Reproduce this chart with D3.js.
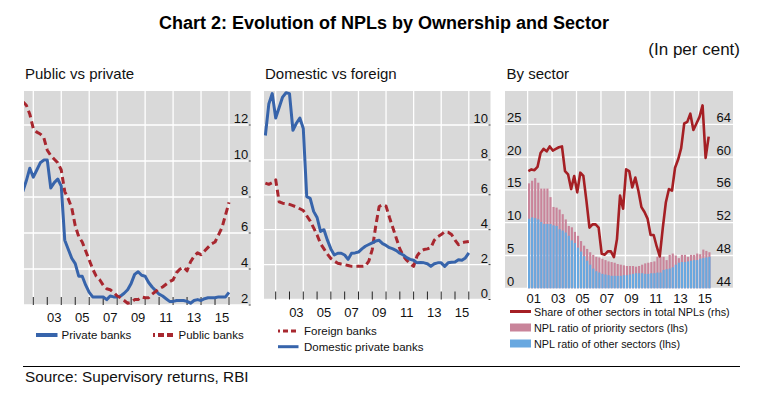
<!DOCTYPE html>
<html><head><meta charset="utf-8">
<script src="https://cdn.jsdelivr.net/npm/d3@7"></script>
<style>body{margin:0;background:#fff}svg{display:block;font-family:"Liberation Sans",Arial,sans-serif}</style>
</head><body><svg id="c" width="764" height="398"></svg>
<script>
// ---- data (quarterly, 2001Q1 .. 2015Q4) ----
const years = [2001,2002,2003,2004,2005,2006,2007,2008,2009,2010,2011,2012,2013,2014,2015];
const quarterIdx = [1,2,3,4];
const privateBanks = [8.3,8.9,9.6,9.1, 9.5,9.9,10.05,10.05, 8.5,8.8,9.0,8.6, 5.6,5.1,4.6,4.3, 3.6,3.6,3.1,2.7, 2.45,2.45,2.45,2.45, 2.3,2.5,2.45,2.45, 2.5,2.65,2.85,3.2, 3.7,3.85,3.65,3.6, 3.25,3.0,2.8,2.6, 2.5,2.35,2.2,2.2, 2.25,2.25,2.25,2.2, 2.1,2.25,2.3,2.25, 2.35,2.4,2.4,2.4, 2.45,2.45,2.45,2.7];
const publicBanks = [13.3,13.1,12.6,11.8, 11.6,11.5,11.3,10.6, 10.3,10.1,9.9,9.5, 8.3,7.9,7.4,6.4, 5.8,5.5,5.0,4.5, 4.0,3.6,3.4,3.1, 2.9,2.85,2.7,2.5, 2.4,2.25,2.1,2.15, 2.3,2.3,2.45,2.4, 2.4,2.6,2.75,2.9, 3.0,3.15,3.3,3.4, 3.8,4.0,4.1,3.9, 4.4,4.7,4.9,4.8, 5.0,5.2,5.4,5.5, 5.9,6.3,7.0,7.7];
const foreignBanks = [6.67,6.6,6.7,6.86, 5.6,5.52,5.5,5.45, 5.38,5.3,5.2,5.1, 4.8,4.5,4.1,3.7, 3.2,2.9,2.6,2.35, 2.2,2.08,2.03,2.0, 1.95,1.9,1.9,1.9, 1.9,1.92,2.2,2.86, 4.2,5.33,5.43,5.35, 4.7,4.1,3.5,2.9, 2.5,2.25,2.05,1.9, 2.5,2.76,2.86,2.9, 2.98,3.4,3.6,3.72, 3.88,3.85,3.72,3.4, 3.14,3.25,3.3,3.33];
const domesticPrivate = [9.4,11.2,11.8,10.4, 11.0,11.6,11.85,11.8, 9.7,10.1,10.4,9.8, 5.9,5.8,5.05,4.7, 3.9,4.0,3.4,2.9, 2.55,2.65,2.65,2.55, 2.3,2.65,2.67,2.72, 2.9,3.05,3.15,3.25, 3.35,3.39,3.2,3.1, 2.97,2.9,2.8,2.65, 2.55,2.4,2.3,2.25, 2.1,2.12,2.1,2.05, 1.9,2.05,2.1,2.1, 1.9,2.1,2.13,2.15, 2.28,2.25,2.38,2.67];
const priorityNPL = [16.0,16.4,16.8,16.1, 15.2,15.2,15.2,13.9, 12.4,12.3,12.0,11.3, 10.5,9.5,9.3,8.6, 8.0,7.2,6.5,6.0, 5.5,5.1,4.8,4.7, 4.5,4.3,4.1,4.0, 3.9,3.7,3.6,3.5, 3.4,3.4,3.4,3.3, 3.4,3.6,3.8,3.9, 4.0,4.1,4.8,4.8, 4.8,4.3,5.1,5.3, 5.0,4.6,5.1,5.1, 4.8,5.1,5.1,5.3, 5.2,5.9,5.7,5.5];
const otherNPL = [10.6,10.8,10.7,10.5, 10.1,9.8,9.8,9.8, 9.6,9.5,9.0,8.8, 8.5,8.0,7.3,6.9, 6.2,5.6,4.9,4.2, 3.6,3.0,2.6,2.4, 2.2,2.1,2.0,1.9, 1.9,1.9,1.9,2.0, 2.0,2.1,2.2,2.3, 2.3,2.3,2.2,2.2, 2.3,2.3,2.4,2.4, 2.8,2.9,3.0,3.2, 3.6,3.9,4.0,4.0, 4.1,4.2,4.3,4.3, 4.5,4.6,4.7,4.8];
const otherShare = [58.3,58.5,58.4,58.8, 60.5,61.0,60.7,61.3, 60.8,61.0,61.2,61.3, 58.3,57.9,56.1,57.7, 55.7,58.1,57.7,54.7, 51.4,51.8,51.8,51.4, 48.2,48.1,48.5,48.5, 47.8,50.0,55.3,53.7, 58.5,58.3,56.3,57.5, 55.9,53.9,53.3,52.5, 50.5,50.5,49.1,47.9, 51.4,54.5,56.1,55.9, 58.7,59.7,61.1,64.1, 64.3,65.3,63.3,64.1, 64.9,66.3,59.9,62.5];
const xLabelsOdd = ["03","05","07","09","11","13","15"];
const xLabels3 = ["01","03","05","07","09","11","13","15"];
const yTicks1 = [2,4,6,8,10,12];
const yTicks2 = [0,2,4,6,8,10];
const yTicksL3 = [0,5,10,15,20,25];
const yTicksR3 = [44,48,52,56,60,64];

// quarter-end times (2001.25 ... 2016.0)
const qTime = years.flatMap(y => quarterIdx.map(q => y + q/4));

const C = {gray:"#d9d9d9", blue:"#3764ab", red:"#a8272f", red3:"#a51f24", pink:"#c9849a", lblue:"#68a8e0", txt:"#111"};
const svg = d3.select("#c");

svg.append("text").attr("x",384).attr("y",29).attr("text-anchor","middle")
  .attr("font-size",18).attr("font-weight","bold").attr("fill","#000")
  .text("Chart 2: Evolution of NPLs by Ownership and Sector");
svg.append("text").attr("x",740).attr("y",55).attr("text-anchor","end")
  .attr("font-size",17).attr("fill",C.txt).text("(In per cent)");

function lineGen(x, y, vals){
  return d3.line().x((d,i)=>x(qTime[i])).y(d=>y(d))(vals);
}

function timePanel(o){
  const g = svg.append("g");
  g.append("text").attr("x",o.left+1).attr("y",79).attr("font-size",15).attr("fill",C.txt).text(o.title);
  g.append("rect").attr("x",o.left).attr("y",91).attr("width",o.right-o.left).attr("height",o.bottom-91).attr("fill",C.gray);
  const x = d3.scaleLinear().domain([2002,2016]).range(o.xr);
  const y = d3.scaleLinear().domain(o.yd).range([o.bottom, o.ytop]);
  o.yTicks.forEach(v=>{
    g.append("line").attr("x1",o.left).attr("x2",o.right).attr("y1",y(v)).attr("y2",y(v)).attr("stroke","#fff").attr("stroke-width",1.3);
    g.append("line").attr("x1",o.right-2).attr("x2",o.right).attr("y1",y(v)).attr("y2",y(v)).attr("stroke","#333");
    g.append("text").attr("x",o.right-2.5).attr("y",y(v)-2).attr("text-anchor","end").attr("font-size",13).attr("fill",C.txt).text(v);
  });
  d3.range(2002,2017,2).forEach(t=>{
    g.append("line").attr("x1",x(t)).attr("x2",x(t)).attr("y1",91).attr("y2",o.bottom).attr("stroke","#fff").attr("stroke-width",1.3);
  });
  d3.range(2002,2017).forEach(t=>{
    g.append("line").attr("x1",x(t)).attr("x2",x(t)).attr("y1",o.bottom-8).attr("y2",o.bottom).attr("stroke","#222").attr("stroke-width",1);
  });
  xLabelsOdd.forEach(l=>{
    const t = 2000 + (+l) + 0.5;
    g.append("text").attr("x",x(t)).attr("y",o.labY).attr("text-anchor","middle").attr("font-size",13).attr("fill",C.txt).text(l);
  });
  const cid = "clip"+o.id;
  svg.append("clipPath").attr("id",cid).append("rect").attr("x",o.left).attr("y",91).attr("width",o.right-o.left).attr("height",o.bottom-91);
  const lg = g.append("g").attr("clip-path",`url(#${cid})`);
  o.series.forEach(s=>{
    lg.append("path").attr("d",lineGen(x,y,s.vals)).attr("fill","none").attr("stroke",s.color)
      .attr("stroke-width",3).attr("stroke-dasharray",s.dash||null).attr("stroke-linejoin","round");
  });
  return g;
}

timePanel({id:1, title:"Public vs private", left:24, right:250.7, bottom:305, ytop:125, yd:[2,12], yTicks:yTicks1,
  xr:[33.3,229.0], labY:321.5,
  series:[{vals:privateBanks,color:C.blue},{vals:publicBanks,color:C.red,dash:"7,4"}]});
timePanel({id:2, title:"Domestic vs foreign", left:264, right:490.5, bottom:299.5, ytop:125, yd:[0,10], yTicks:yTicks2,
  xr:[275.7,468.8], labY:316.5,
  series:[{vals:foreignBanks,color:C.red,dash:"7,4"},{vals:domesticPrivate,color:C.blue}]});

// legends panel 1
svg.append("line").attr("x1",36).attr("x2",57.5).attr("y1",335).attr("y2",335).attr("stroke",C.blue).attr("stroke-width",4);
svg.append("text").attr("x",61.5).attr("y",339).attr("font-size",11.5).attr("fill",C.txt).text("Private banks");
svg.append("line").attr("x1",153).attr("x2",175.5).attr("y1",335).attr("y2",335).attr("stroke",C.red).attr("stroke-width",4).attr("stroke-dasharray","6,3").attr("stroke-dashoffset",4);
svg.append("text").attr("x",178.5).attr("y",339).attr("font-size",11.5).attr("fill",C.txt).text("Public banks");
// legends panel 2
svg.append("line").attr("x1",278).attr("x2",298.5).attr("y1",331).attr("y2",331).attr("stroke",C.red).attr("stroke-width",3).attr("stroke-dasharray","5,3").attr("stroke-dashoffset",3);
svg.append("text").attr("x",304).attr("y",335).attr("font-size",11.5).attr("fill",C.txt).text("Foreign banks");
svg.append("line").attr("x1",278).attr("x2",298.5).attr("y1",346.7).attr("y2",346.7).attr("stroke",C.blue).attr("stroke-width",3);
svg.append("text").attr("x",304).attr("y",350.7).attr("font-size",11.5).attr("fill",C.txt).text("Domestic private banks");

// ---- panel 3 ----
(function(){
  const left=505, right=733, bottom=288.3, top=91;
  const g = svg.append("g");
  g.append("text").attr("x",506.5).attr("y",79).attr("font-size",15).attr("fill",C.txt).text("By sector");
  g.append("rect").attr("x",left).attr("y",top).attr("width",right-left).attr("height",bottom-top).attr("fill",C.gray);
  const x = d3.scaleLinear().domain([2001,2016]).range([527.6,711]);
  const yL = d3.scaleLinear().domain([0,25]).range([bottom,124.3]);
  const yR = d3.scaleLinear().domain([44,64]).range([bottom,124.3]);
  yTicksL3.forEach(v=>{
    g.append("line").attr("x1",left).attr("x2",right).attr("y1",yL(v)).attr("y2",yL(v)).attr("stroke","#fff").attr("stroke-width",1.3);
    g.append("text").attr("x",507).attr("y",yL(v)-2.5).attr("font-size",13).attr("fill",C.txt).text(v);
  });
  yTicksR3.forEach(v=>{
    g.append("text").attr("x",731).attr("y",yR(v)-2.5).attr("text-anchor","end").attr("font-size",13).attr("fill",C.txt).text(v);
  });
  d3.range(2001,2016,2).forEach(t=>{
    g.append("line").attr("x1",x(t)).attr("x2",x(t)).attr("y1",top).attr("y2",bottom).attr("stroke","#fff").attr("stroke-width",1.3);
  });
  const qStart = qTime.map(t=>t-0.25);
  const bw = x(2001.25)-x(2001);
  g.selectAll(".pb").data(priorityNPL).join("rect")
    .attr("x",(d,i)=>x(qStart[i])+0.4).attr("width",bw-0.9)
    .attr("y",d=>yL(d)).attr("height",d=>bottom-yL(d)).attr("fill",C.pink);
  g.selectAll(".bb").data(otherNPL).join("rect")
    .attr("x",(d,i)=>x(qStart[i])+0.4).attr("width",bw-0.9)
    .attr("y",d=>yL(d)).attr("height",d=>bottom-yL(d)).attr("fill",C.lblue);
  const ln = d3.line().x((d,i)=>x(qStart[i]+0.06)).y(d=>yR(d));
  g.append("path").attr("d",ln(otherShare)).attr("fill","none").attr("stroke",C.red3).attr("stroke-width",2.6).attr("stroke-linejoin","round");
  xLabels3.forEach(l=>{
    const t = 2000 + (+l) + 0.5;
    g.append("text").attr("x",x(t)).attr("y",302.5).attr("text-anchor","middle").attr("font-size",13).attr("fill",C.txt).text(l);
  });
  // legend
  svg.append("line").attr("x1",510).attr("x2",531).attr("y1",311.5).attr("y2",311.5).attr("stroke",C.red3).attr("stroke-width",3);
  svg.append("text").attr("x",534).attr("y",315.5).attr("font-size",10.8).attr("fill",C.txt).text("Share of other sectors in total NPLs (rhs)");
  svg.append("rect").attr("x",510).attr("y",323.5).attr("width",21).attr("height",8).attr("fill",C.pink);
  svg.append("text").attr("x",534).attr("y",331.5).attr("font-size",10.8).attr("fill",C.txt).text("NPL ratio of priority sectors (lhs)");
  svg.append("rect").attr("x",510).attr("y",339.5).attr("width",21).attr("height",8).attr("fill",C.lblue);
  svg.append("text").attr("x",534).attr("y",347.5).attr("font-size",10.8).attr("fill",C.txt).text("NPL ratio of other sectors (lhs)");
})();

// source
svg.append("line").attr("x1",23).attr("x2",740).attr("y1",366.5).attr("y2",366.5).attr("stroke","#000").attr("stroke-width",1);
svg.append("text").attr("x",25).attr("y",382).attr("font-size",15.3).attr("fill",C.txt).text("Source: Supervisory returns, RBI");
</script></body></html>
